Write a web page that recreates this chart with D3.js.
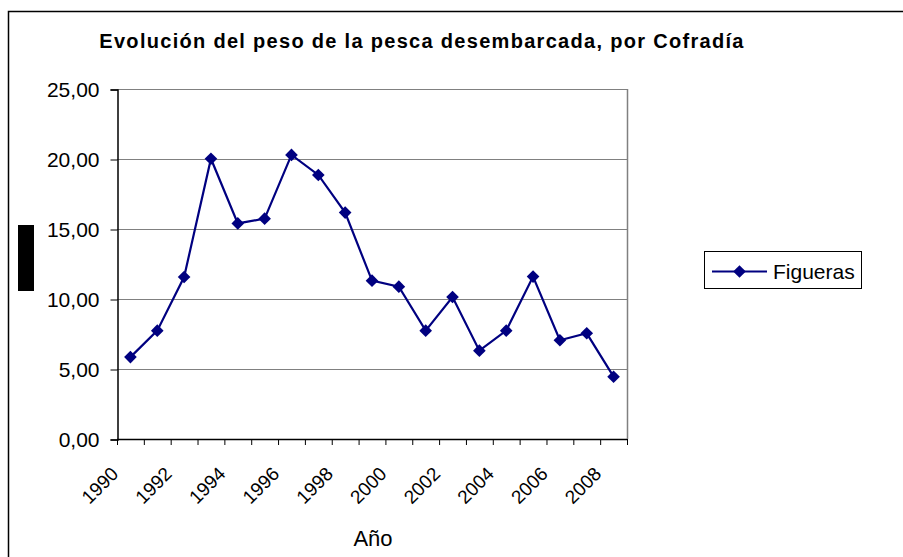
<!DOCTYPE html>
<html lang="es">
<head>
<meta charset="UTF-8">
<script src="https://d3js.org/d3.v7.min.js"></script>
<title>Evolución del peso de la pesca</title>
<style>
  body { margin: 0; background: #fff; }
  text { font-family: "Liberation Sans", Arial, sans-serif; fill: #000; }
</style>
</head>
<body>
<script>
// data
var years = [1990, 1991, 1992, 1993, 1994, 1995, 1996, 1997, 1998, 1999,
             2000, 2001, 2002, 2003, 2004, 2005, 2006, 2007, 2008];
var figueras = [5.85, 7.74, 11.57, 20.02, 15.40, 15.74, 20.29, 18.86, 16.17, 11.31,
                10.88, 7.74, 10.14, 6.31, 7.74, 11.60, 7.05, 7.55, 4.45];
var yTicks = [0, 5, 10, 15, 20, 25];
var xLabels = [1990, 1992, 1994, 1996, 1998, 2000, 2002, 2004, 2006, 2008];

var W = 903, H = 557;
var pLeft = 117, pRight = 627, pTop = 89, pBottom = 439;

var svg = d3.select("body").append("svg").attr("width", W).attr("height", H);

// outer chart frame
svg.append("path").attr("d", "M8.5," + (H + 5) + "V11.5H" + (W + 5))
  .attr("fill", "none").attr("stroke", "#000").attr("stroke-width", 1.5);

// little black block on the left
svg.append("rect").attr("x", 18).attr("y", 225).attr("width", 16).attr("height", 66).attr("fill", "#000");

var x = d3.scaleBand().domain(years).range([pLeft, pRight]);
var y = d3.scaleLinear().domain([0, 25]).range([pBottom, pTop]);
var fmt = function(v) { return d3.format(".2f")(v).replace(".", ","); };

// grid lines
svg.append("g").selectAll("line").data(yTicks.slice(1)).enter().append("line")
  .attr("x1", pLeft).attr("x2", pRight)
  .attr("y1", function(d) { return y(d) + 0.5; })
  .attr("y2", function(d) { return y(d) + 0.5; })
  .attr("stroke", "#808080").attr("stroke-width", 1);

// right plot border
svg.append("line").attr("x1", pRight + 0.5).attr("x2", pRight + 0.5)
  .attr("y1", pTop).attr("y2", pBottom).attr("stroke", "#808080").attr("stroke-width", 1.5);

// y axis
var yAxis = svg.append("g").attr("transform", "translate(" + (pLeft + 0.5) + ",0.5)")
  .call(d3.axisLeft(y).tickValues(yTicks).tickFormat(fmt).tickSize(7).tickPadding(11));
yAxis.select(".domain").attr("stroke", "#000").attr("stroke-width", 1.5);
yAxis.selectAll(".tick line").attr("stroke", "#000");
yAxis.selectAll("text").attr("font-size", 21).attr("font-family", "Liberation Sans, Arial, sans-serif");

// x axis: ticks on category boundaries
var bounds = years.map(function(d) { return x(d); }).concat([pRight]);
var xg = svg.append("g");
xg.append("line").attr("x1", pLeft).attr("x2", pRight)
  .attr("y1", pBottom + 0.5).attr("y2", pBottom + 0.5).attr("stroke", "#000").attr("stroke-width", 1.5);
xg.selectAll("line.tk").data(bounds).enter().append("line").attr("class", "tk")
  .attr("x1", function(d) { return d + 0.5; }).attr("x2", function(d) { return d + 0.5; })
  .attr("y1", pBottom).attr("y2", pBottom + 6).attr("stroke", "#000");
xg.selectAll("text").data(xLabels).enter().append("text")
  .attr("transform", function(d) {
    return "translate(" + (x(d) + x.bandwidth() / 2 - 11) + "," + (pBottom + 36) + ") rotate(-45)";
  })
  .attr("text-anchor", "end").attr("font-size", 19)
  .text(function(d) { return d; });

// series
var cx = function(d, i) { return x(years[i]) + x.bandwidth() / 2; };
svg.append("path").datum(figueras)
  .attr("d", d3.line().x(cx).y(function(d) { return y(d); }))
  .attr("fill", "none").attr("stroke", "#000080").attr("stroke-width", 2.2);
var diamond = d3.symbol().type(d3.symbolSquare).size(80);
svg.append("g").selectAll("path").data(figueras).enter().append("path")
  .attr("d", diamond)
  .attr("transform", function(d, i) { return "translate(" + cx(d, i) + "," + y(d) + ") rotate(45)"; })
  .attr("fill", "#000080");

// title
svg.append("text").attr("x", 422).attr("y", 48).attr("text-anchor", "middle")
  .attr("font-size", 20).attr("font-weight", "bold").attr("letter-spacing", 1.3)
  .text("Evolución del peso de la pesca desembarcada, por Cofradía");

// x axis title
svg.append("text").attr("x", 373).attr("y", 546).attr("text-anchor", "middle")
  .attr("font-size", 22).text("Año");

// legend
var lg = svg.append("g");
lg.append("rect").attr("x", 704.5).attr("y", 251.5).attr("width", 157).attr("height", 37)
  .attr("fill", "#fff").attr("stroke", "#000").attr("stroke-width", 1);
lg.append("line").attr("x1", 712).attr("x2", 767).attr("y1", 271.5).attr("y2", 271.5)
  .attr("stroke", "#000080").attr("stroke-width", 2.2);
lg.append("path").attr("d", diamond).attr("transform", "translate(739.5,271.5) rotate(45)").attr("fill", "#000080");
lg.append("text").attr("x", 773).attr("y", 279).attr("font-size", 21).text("Figueras");
</script>
</body>
</html>
